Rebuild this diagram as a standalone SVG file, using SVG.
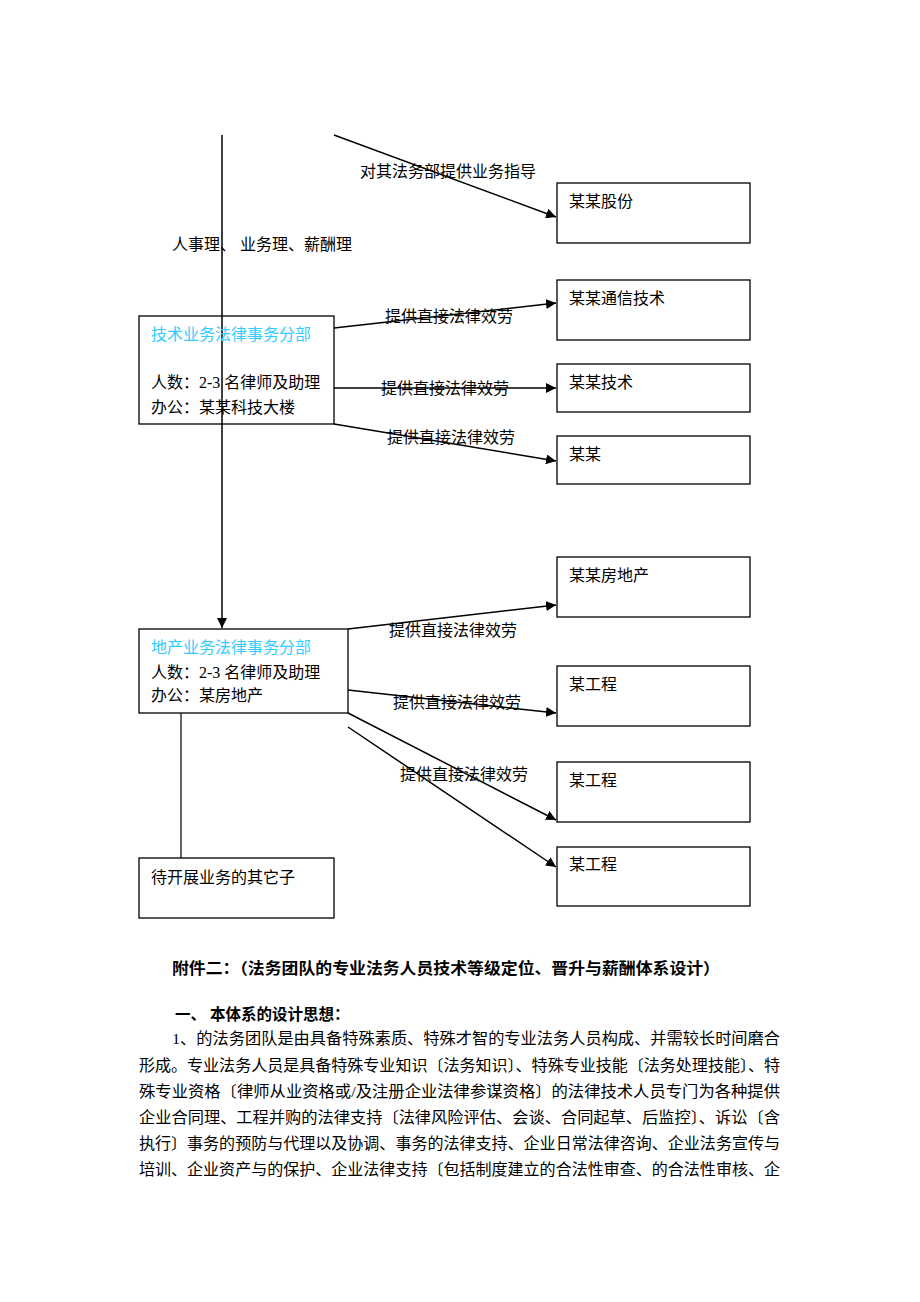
<svg xmlns="http://www.w3.org/2000/svg" width="920" height="1302" viewBox="0 0 920 1302">
<style>
.box{fill:#fff;stroke:#000;stroke-width:1.3}
.t{font-family:"Liberation Serif","Noto Sans CJK SC",serif;font-size:16px;fill:#000}
.c{fill:#33ccff}
.ln{stroke:#000;stroke-width:1.5;fill:none}
.p{font-family:"Liberation Serif","Noto Sans CJK SC",serif;font-size:15.5px;fill:#000}
.b{font-weight:bold}
</style>
<defs>
<marker id="ah" viewBox="0 0 10 10" refX="10" refY="5" markerWidth="10" markerHeight="10" markerUnits="userSpaceOnUse" orient="auto">
<path d="M0,0 L10,5 L0,10 z" fill="#000"/>
</marker>
</defs>
<rect width="920" height="1302" fill="#fff"/>
<g id="connectors">
<line class="ln" x1="222" y1="135" x2="222" y2="628" marker-end="url(#ah)"/>
<line class="ln" x1="334" y1="135" x2="556" y2="217" marker-end="url(#ah)"/>
<line class="ln" x1="334" y1="328" x2="556" y2="303" marker-end="url(#ah)"/>
<line class="ln" x1="334" y1="388" x2="556" y2="388" marker-end="url(#ah)"/>
<line class="ln" x1="334" y1="424" x2="556" y2="461" marker-end="url(#ah)"/>
<line class="ln" x1="348" y1="629" x2="556" y2="605" marker-end="url(#ah)"/>
<line class="ln" x1="348" y1="690" x2="556" y2="713" marker-end="url(#ah)"/>
<line class="ln" x1="348" y1="713" x2="556" y2="820" marker-end="url(#ah)"/>
<line class="ln" x1="348" y1="727" x2="556" y2="867" marker-end="url(#ah)"/>
<line class="ln" x1="181" y1="713" x2="181" y2="858" style="stroke-width:1.2"/>
<text class="t" x="360" y="177">对其法务部提供业务指导</text>
<text class="t" x="172" y="250">人事理、  业务理、薪酬理</text>
<text class="t" x="385" y="322">提供直接法律效劳</text>
<text class="t" x="381" y="394">提供直接法律效劳</text>
<text class="t" x="387" y="443">提供直接法律效劳</text>
<text class="t" x="389" y="636">提供直接法律效劳</text>
<text class="t" x="393" y="708">提供直接法律效劳</text>
<text class="t" x="400" y="780">提供直接法律效劳</text>
</g>
<g id="n-gufen"><rect class="box" x="557" y="183" width="193" height="60"/><text class="t" x="569" y="207">某某股份</text></g>
<g id="n-tech-dept"><rect class="box" x="139" y="316" width="195" height="108" style="fill:none"/>
<text class="t c" x="151" y="340">技术业务法律事务分部</text>
<text class="t" x="151" y="388">人数：2-3 名律师及助理</text>
<text class="t" x="151" y="413">办公：某某科技大楼</text></g>
<g id="n-tongxin"><rect class="box" x="557" y="280" width="193" height="60"/><text class="t" x="569" y="304">某某通信技术</text></g>
<g id="n-jishu"><rect class="box" x="557" y="364" width="193" height="48"/><text class="t" x="569" y="388">某某技术</text></g>
<g id="n-moumou"><rect class="box" x="557" y="436" width="193" height="48"/><text class="t" x="569" y="460">某某</text></g>
<g id="n-fangdichan"><rect class="box" x="557" y="557" width="193" height="60"/><text class="t" x="569" y="581">某某房地产</text></g>
<g id="n-estate-dept"><rect class="box" x="139" y="629" width="209" height="84"/>
<text class="t c" x="151" y="653">地产业务法律事务分部</text>
<text class="t" x="151" y="678">人数：2-3 名律师及助理</text>
<text class="t" x="151" y="701">办公：某房地产</text></g>
<g id="n-gc1"><rect class="box" x="557" y="666" width="193" height="60"/><text class="t" x="569" y="690">某工程</text></g>
<g id="n-gc2"><rect class="box" x="557" y="762" width="193" height="60"/><text class="t" x="569" y="786">某工程</text></g>
<g id="n-gc3"><rect class="box" x="557" y="847" width="193" height="59"/><text class="t" x="569" y="870">某工程</text></g>
<g id="n-other"><rect class="box" x="139" y="858" width="195" height="60"/><text class="t" x="151" y="883">待开展业务的其它子</text></g>
<g id="text-body">
<text class="p b" x="172" y="974" textLength="548" lengthAdjust="spacingAndGlyphs">附件二：（法务团队的专业法务人员技术等级定位、晋升与薪酬体系设计）</text>
<text class="p b" x="175" y="1020">一、 本体系的设计思想：</text>
<text class="p" x="172" y="1044" textLength="608" lengthAdjust="spacingAndGlyphs">1、的法务团队是由具备特殊素质、特殊才智的专业法务人员构成、并需较长时间磨合</text>
<text class="p" x="139" y="1071" textLength="641" lengthAdjust="spacingAndGlyphs">形成。专业法务人员是具备特殊专业知识〔法务知识〕、特殊专业技能〔法务处理技能〕、特</text>
<text class="p" x="139" y="1097" textLength="641" lengthAdjust="spacingAndGlyphs">殊专业资格〔律师从业资格或/及注册企业法律参谋资格〕的法律技术人员专门为各种提供</text>
<text class="p" x="139" y="1123" textLength="641" lengthAdjust="spacingAndGlyphs">企业合同理、工程并购的法律支持〔法律风险评估、会谈、合同起草、后监控〕、诉讼〔含</text>
<text class="p" x="139" y="1149" textLength="641" lengthAdjust="spacingAndGlyphs">执行〕事务的预防与代理以及协调、事务的法律支持、企业日常法律咨询、企业法务宣传与</text>
<text class="p" x="139" y="1175" textLength="641" lengthAdjust="spacingAndGlyphs">培训、企业资产与的保护、企业法律支持〔包括制度建立的合法性审查、的合法性审核、企</text>
</g>
</svg>
